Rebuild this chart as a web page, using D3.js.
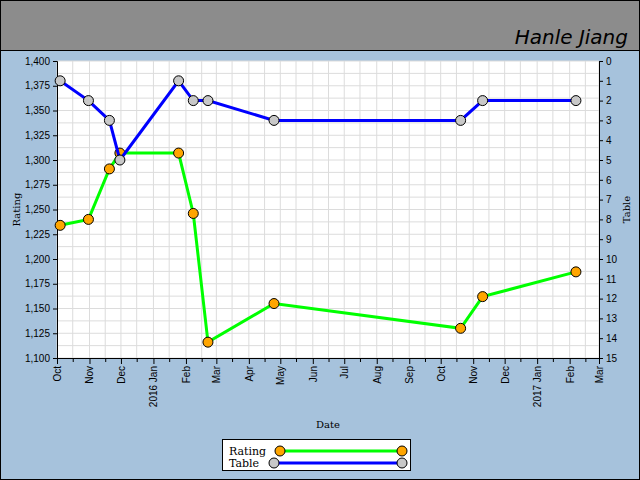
<!DOCTYPE html>
<html>
<head>
<meta charset="utf-8">
<script src="https://d3js.org/d3.v7.min.js"></script>
<style>
  body { margin:0; }
  svg { font-family: "DejaVu Serif", serif; }
</style>
</head>
<body>
<script>
// データ
var dates   = ["2015-10-04","2015-10-31","2015-11-20","2015-11-30","2016-01-25","2016-02-08","2016-02-22","2016-04-25","2016-10-20","2016-11-10","2017-02-07"];
var ratings = [1234, 1240, 1291, 1307, 1307, 1246, 1116, 1155, 1130, 1162, 1187];
var tables  = [1, 2, 3, 5, 1, 2, 2, 3, 3, 2, 2];
var title = "Hanle Jiang";

var W = 640, H = 480;
var m = {l:57, r:41, t:61, b:122};
var parse = d3.timeParse("%Y-%m-%d");
var dd = dates.map(parse);

var svg = d3.select("body").append("svg").attr("width", W).attr("height", H);
svg.append("rect").attr("x",0.5).attr("y",0.5).attr("width",W-1).attr("height",H-1)
  .attr("fill","#a6c2dc").attr("stroke","#000");
svg.append("rect").attr("x",0.5).attr("y",0.5).attr("width",W-1).attr("height",50)
  .attr("fill","#8c8c8c").attr("stroke","#000");
svg.append("text").attr("x",628).attr("y",44).attr("text-anchor","end")
  .attr("font-family","'Comic Sans MS', 'DejaVu Sans', sans-serif").attr("font-style","italic")
  .attr("font-size",20).text(title);

var x = d3.scaleTime().domain([parse("2015-10-01"), parse("2017-03-01")]).range([m.l, W-m.r]);
var y = d3.scaleLinear().domain([1100,1400]).range([H-m.b, m.t]);
var y2 = d3.scaleLinear().domain([15,0]).range([H-m.b, m.t]);

svg.append("rect").attr("x",m.l).attr("y",m.t).attr("width",W-m.l-m.r).attr("height",H-m.t-m.b).attr("fill","#fff");

// grid
var months = x.ticks(d3.timeMonth.every(1));
var mids = months.slice(0,-1).map(function(d){ return d3.timeDay.offset(d,15); });
var g = svg.append("g").attr("stroke","#dcdcdc");
months.concat(mids).forEach(function(d){
  g.append("line").attr("x1",x(d)).attr("x2",x(d)).attr("y1",m.t).attr("y2",H-m.b);
});
d3.range(1100,1401,12.5).forEach(function(v){
  g.append("line").attr("x1",m.l).attr("x2",W-m.r).attr("y1",y(v)).attr("y2",y(v));
});

// axes
var xa = svg.append("g").attr("transform","translate(0,"+(H-m.b)+")")
  .call(d3.axisBottom(x).tickValues(months).tickSize(6).tickFormat(function(d){
    return d.getMonth()==0 ? d3.timeFormat("%Y %b")(d) : d3.timeFormat("%b")(d);
  }));
xa.selectAll("text").attr("transform","rotate(-90)").attr("text-anchor","end")
  .attr("x",-8).attr("y",0).attr("dy","0.35em").attr("font-size",10).attr("fill","#000");
svg.append("g").attr("transform","translate(0,"+(H-m.b)+")")
  .call(d3.axisBottom(x).tickValues(mids).tickSize(4).tickFormat(""))
  .select(".domain").remove();
var ya = svg.append("g").attr("transform","translate("+m.l+",0)")
  .call(d3.axisLeft(y).tickValues(d3.range(1100,1401,25)).tickSize(4));
ya.selectAll("text").attr("font-size",10).attr("fill","#000");
var ya2 = svg.append("g").attr("transform","translate("+(W-m.r)+",0)")
  .call(d3.axisRight(y2).ticks(15).tickSize(4));
ya2.selectAll("text").attr("font-size",10).attr("fill","#000");
svg.selectAll(".domain").attr("stroke","#000");

svg.append("text").attr("x",(m.l+W-m.r)/2).attr("y",428).attr("text-anchor","middle").attr("font-size",10).text("Date");
svg.append("text").attr("transform","translate(20,"+((m.t+H-m.b)/2)+") rotate(-90)").attr("text-anchor","middle").attr("font-size",10).text("Rating");
svg.append("text").attr("transform","translate(630,"+((m.t+H-m.b)/2)+") rotate(-90)").attr("text-anchor","middle").attr("font-size",10).text("Table");

// series
var idx = d3.range(dates.length);
function series(yf, vals, color, fill){
  svg.append("path").datum(idx).attr("fill","none").attr("stroke",color).attr("stroke-width",3)
    .attr("d", d3.line().x(function(i){return x(dd[i]);}).y(function(i){return yf(vals[i]);}));
  svg.selectAll(null).data(idx).enter().append("circle")
    .attr("cx",function(i){return x(dd[i]);}).attr("cy",function(i){return yf(vals[i]);})
    .attr("r",5).attr("fill",fill).attr("stroke","#000");
}
series(y, ratings, "#00ff00", "#ffa500");
series(y2, tables, "#0000ff", "#c8c8c8");

// legend
var lg = svg.append("g");
lg.append("rect").attr("x",222.5).attr("y",439.5).attr("width",188).attr("height",31).attr("fill","#fff").attr("stroke","#000");
[["Rating","#00ff00","#ffa500",280,451],["Table","#0000ff","#c8c8c8",274,463]].forEach(function(s){
  lg.append("text").attr("x",229).attr("y",s[4]+4).attr("font-size",11).text(s[0]);
  lg.append("line").attr("x1",s[3]).attr("x2",402).attr("y1",s[4]).attr("y2",s[4]).attr("stroke",s[1]).attr("stroke-width",3);
  [s[3],402].forEach(function(cx){
    lg.append("circle").attr("cx",cx).attr("cy",s[4]).attr("r",5).attr("fill",s[2]).attr("stroke","#000");
  });
});
</script>
</body>
</html>
